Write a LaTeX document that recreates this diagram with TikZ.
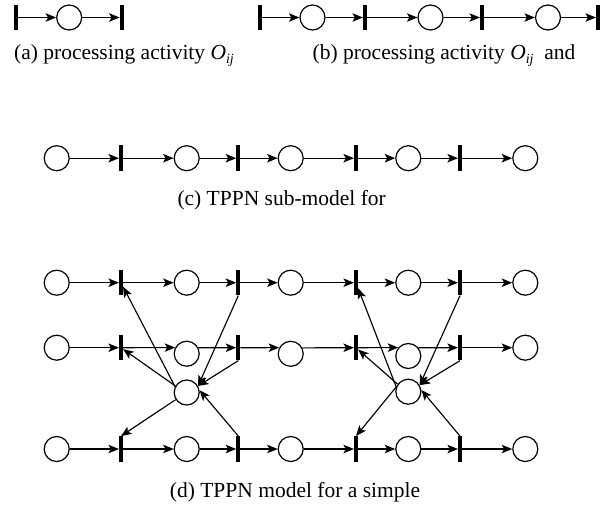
\documentclass[tikz,border=0pt]{standalone}
\usepackage{fontspec}
\setmainfont{Liberation Serif}
\newfontfamily\capfont{Liberation Serif}
\usetikzlibrary{arrows.meta}
\begin{document}
\begin{tikzpicture}[x=1pt,y=-1pt,
  place/.style={circle,draw,line width=1.2pt,minimum size=25pt,inner sep=0pt},
  trans/.style={rectangle,fill=black,minimum width=3.8pt,minimum height=25.5pt,inner sep=0pt},
  arc/.style={line width=1.15pt,-{Stealth[length=10.5pt,width=8.5pt,inset=2.5pt]}},
  captext/.style={anchor=base,inner sep=0pt,font=\capfont\fontsize{21.5}{26}\selectfont}]
\useasboundingbox (0,0) rectangle (604,504);
\newcommand{\Oij}{\textit{O}\raisebox{-4pt}{\fontsize{14}{14}\selectfont\itshape ij}}
% (a)
\node[trans] (ta1) at (16,17.5) {};
\node[place] (pa1) at (69.2,17.5) {};
\node[trans] (ta2) at (121.7,17.5) {};
\draw[arc] (ta1) -- (pa1);
\draw[arc] (pa1) -- (ta2);
\node[captext] (capa) at (124,59) {(a) processing activity \Oij};
% (b)
\node[trans] (tb1) at (260,17.5) {};
\node[place] (pb1) at (312.5,17.5) {};
\node[trans] (tb2) at (365,17.5) {};
\node[place] (pb2) at (430.5,17.5) {};
\node[trans] (tb3) at (482,17.5) {};
\node[place] (pb3) at (548,17.5) {};
\node[trans] (tb4) at (598,17.5) {};
\draw[arc] (tb1) -- (pb1);
\draw[arc] (pb1) -- (tb2);
\draw[arc] (tb2) -- (pb2);
\draw[arc] (pb2) -- (tb3);
\draw[arc] (tb3) -- (pb3);
\draw[arc] (pb3) -- (tb4);
\node[captext] (capb) at (444,59) {(b) processing activity \Oij\ \ and};
% (c)
\foreach \x [count=\i] in {56.7,186.7,290.7,408.3,525.3}
  \node[place] (cp\i) at (\x,158.2) {};
\foreach \x [count=\i] in {121,238.3,356,460}
  \node[trans] (ct\i) at (\x,158.2) {};
\foreach \i in {1,...,4} {
  \pgfmathtruncatemacro{\j}{\i+1}
  \draw[arc] (cp\i) -- (ct\i);
  \draw[arc] (ct\i) -- (cp\j);
}
\node[captext] (capc) at (281.7,205) {(c) TPPN sub-model for};
% (d) rows 1 and 3
\foreach \r/\y in {1/282.7,3/449} {
  \foreach \x [count=\i] in {56.7,186.7,290.7,408.3,525.3}
    \node[place] (p\r\i) at (\x,\y) {};
  \foreach \x [count=\i] in {121,238.3,356,460}
    \node[trans] (t\r\i) at (\x,\y) {};
  \foreach \i in {1,...,4} {
    \pgfmathtruncatemacro{\j}{\i+1}
    \draw[arc] (p\r\i) -- (t\r\i);
    \draw[arc] (t\r\i) -- (p\r\j);
  }
}
% (d) row 2
\node[place] (p21) at (56.7,347.7) {};
\node[place] (p22) at (186.7,353.7) {};
\node[place] (p23) at (290.7,353.8) {};
\node[place] (p24) at (408.3,356) {};
\node[place] (p25) at (525.3,347.7) {};
\foreach \x [count=\i] in {121,238.3,356,460}
  \node[trans] (t2\i) at (\x,347.7) {};
\draw[arc] (p21) -- (t21);
\draw[arc] (t21) -- (p22.152.7);
\draw[arc] (p22.27.3) -- (t22);
\draw[arc] (t22) -- (p23.152.4);
\draw[arc] (p23.27.6) -- (t23);
\draw[arc] (t23) -- (p24.140.7);
\draw[arc] (p24.39.3) -- (t24);
\draw[arc] (t24) -- (p25);
% resources
\node[place] (R1) at (186.7,392.5) {};
\node[place] (R2) at (408.3,391.7) {};
\draw[arc] (R1.153) -- (t11);
\draw[arc] (R1.150) -- (t21);
\draw[arc] (t12.south) -- (R1.30);
\draw[arc] (t22.south) -- (R1.30);
\draw[arc] (R1.213) -- (t31.north);
\draw[arc] (t32.north) -- (R1.10);
\draw[arc] (R2.158) -- (t13);
\draw[arc] (R2.145) -- (t23);
\draw[arc] (t14.south) -- (R2.30);
\draw[arc] (t24.south) -- (R2.30);
\draw[arc] (R2.160) -- (t33.north);
\draw[arc] (t34.north) -- (R2.8);
\node[captext] (capd) at (295,497) {(d) TPPN model for a simple};
\end{tikzpicture}
\end{document}
